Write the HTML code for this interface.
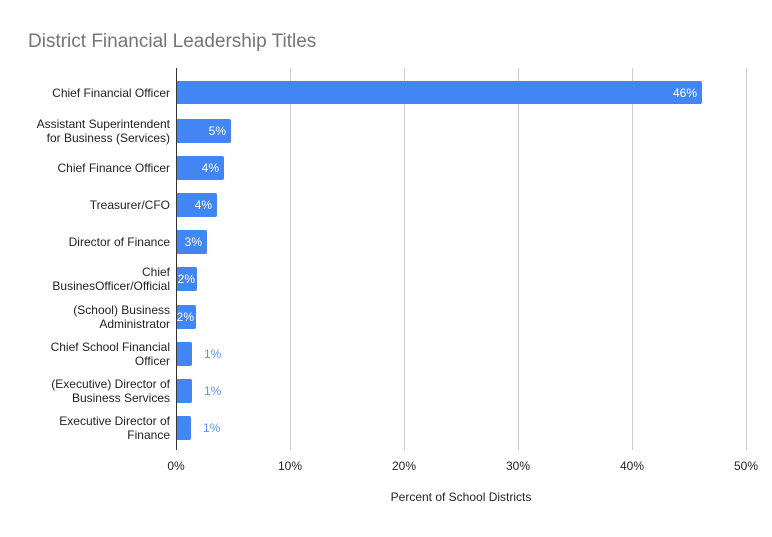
<!DOCTYPE html>
<html><head><meta charset="utf-8"><style>
body{margin:0;background:#fff}
svg text{font-family:"Liberation Sans",Arial,sans-serif}
</style></head><body>
<svg width="772" height="532" xmlns="http://www.w3.org/2000/svg">
<rect width="772" height="532" fill="#fff"/>
<text x="28" y="47" font-size="19" fill="#757575">District Financial Leadership Titles</text>
<g stroke="#ccc" stroke-width="1">
<line x1="290.5" y1="68" x2="290.5" y2="450"/>
<line x1="404.5" y1="68" x2="404.5" y2="450"/>
<line x1="518.5" y1="68" x2="518.5" y2="450"/>
<line x1="632.5" y1="68" x2="632.5" y2="450"/>
<line x1="746.5" y1="68" x2="746.5" y2="450"/>
</g>
<g fill="#4285f4">
<rect x="176" y="81" width="526" height="23" rx="2"/>
<rect x="176" y="119" width="55" height="24" rx="2"/>
<rect x="176" y="156" width="48" height="24" rx="2"/>
<rect x="176" y="193" width="41" height="24" rx="2"/>
<rect x="176" y="230" width="31" height="24" rx="2"/>
<rect x="176" y="267" width="21" height="24" rx="2"/>
<rect x="176" y="305" width="20" height="24" rx="2"/>
<rect x="176" y="342" width="16" height="24" rx="2"/>
<rect x="176" y="379" width="16" height="24" rx="2"/>
<rect x="176" y="416" width="15" height="24" rx="2"/>
</g>
<line x1="176.5" y1="68" x2="176.5" y2="450" stroke="#333" stroke-width="1"/>
<g font-size="12" fill="#fff" text-anchor="end">
<text x="697" y="97">46%</text>
<text x="226" y="135">5%</text>
<text x="219" y="172">4%</text>
<text x="212" y="209">4%</text>
<text x="202" y="246">3%</text>
<text x="195" y="283">2%</text>
<text x="194" y="321">2%</text>
</g>
<g font-size="12" fill="#5b95f5">
<text x="204" y="358">1%</text>
<text x="204" y="395">1%</text>
<text x="203" y="432">1%</text>
</g>
<g font-size="12" fill="#222" text-anchor="end">
<text x="170" y="97">Chief Financial Officer</text>
<text x="170" y="128">Assistant Superintendent</text>
<text x="170" y="142">for Business (Services)</text>
<text x="170" y="172">Chief Finance Officer</text>
<text x="170" y="209">Treasurer/CFO</text>
<text x="170" y="246">Director of Finance</text>
<text x="170" y="276">Chief</text>
<text x="170" y="290">BusinesOfficer/Official</text>
<text x="170" y="314">(School) Business</text>
<text x="170" y="328">Administrator</text>
<text x="170" y="351">Chief School Financial</text>
<text x="170" y="365">Officer</text>
<text x="170" y="388">(Executive) Director of</text>
<text x="170" y="402">Business Services</text>
<text x="170" y="425">Executive Director of</text>
<text x="170" y="439">Finance</text>
</g>
<g font-size="12" fill="#222" text-anchor="middle">
<text x="176" y="470">0%</text>
<text x="290" y="470">10%</text>
<text x="404" y="470">20%</text>
<text x="518" y="470">30%</text>
<text x="632" y="470">40%</text>
<text x="746" y="470">50%</text>
<text x="461" y="501">Percent of School Districts</text>
</g>
</svg>
</body></html>
